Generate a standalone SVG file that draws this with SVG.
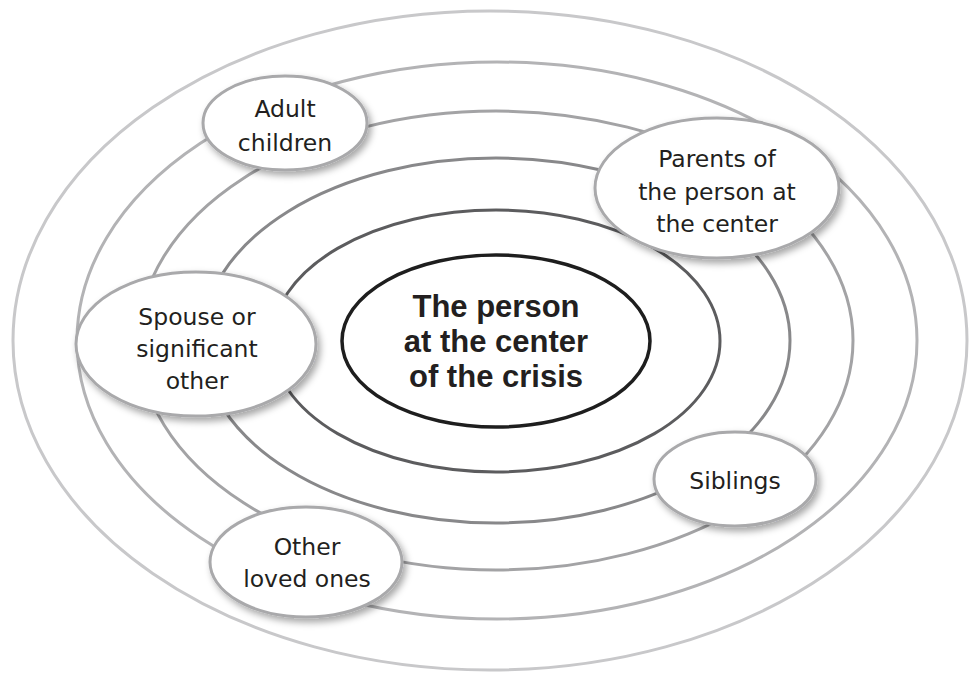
<svg xmlns="http://www.w3.org/2000/svg" width="971" height="673" viewBox="0 0 971 673">
  <defs>
    <filter id="shadow" x="-20%" y="-20%" width="150%" height="150%">
      <feDropShadow dx="3" dy="4" stdDeviation="3.5" flood-color="#000" flood-opacity="0.35"/>
    </filter>
    <style>
      .ring { fill: none; stroke-width: 3; }
      .node ellipse { fill: #fff; stroke: #a9a9ab; stroke-width: 3; filter: url(#shadow); }
      .label { font-family: "DejaVu Sans", "Liberation Sans", sans-serif; font-size: 23.5px; fill: #231f20; text-anchor: middle; }
      .center-label { font-family: "Liberation Sans", Arial, sans-serif; font-weight: bold; font-size: 31px; fill: #231f20; text-anchor: middle; }
    </style>
  </defs>
  <rect width="971" height="673" fill="#fff"/>

  <g id="rings">
    <ellipse class="ring" cx="490" cy="340.5" rx="477" ry="329.5" stroke="#c8c8ca"/>
    <ellipse class="ring" cx="497" cy="340.5" rx="420" ry="278.5" stroke="#b3b3b5"/>
    <ellipse class="ring" cx="496" cy="340.5" rx="357" ry="229.5" stroke="#a3a3a5"/>
    <ellipse class="ring" cx="496" cy="340.5" rx="294" ry="182.5" stroke="#88888a"/>
    <ellipse class="ring" cx="496" cy="341" rx="224" ry="131" stroke="#5c5c5e"/>
  </g>

  <g id="center">
    <ellipse cx="496" cy="341" rx="154" ry="86" fill="#fff" stroke="#1e1e1e" stroke-width="3.5"/>
    <text class="center-label" x="496" y="317">The person</text>
    <text class="center-label" x="496" y="352">at the center</text>
    <text class="center-label" x="496" y="387">of the crisis</text>
  </g>

  <g id="adult-children" class="node">
    <ellipse cx="285" cy="123" rx="82" ry="47"/>
    <text class="label" x="285" y="117">Adult</text>
    <text class="label" x="285" y="151">children</text>
  </g>

  <g id="parents" class="node">
    <ellipse cx="717" cy="188" rx="122" ry="70"/>
    <text class="label" x="717" y="167">Parents of</text>
    <text class="label" x="717" y="200">the person at</text>
    <text class="label" x="717" y="232">the center</text>
  </g>

  <g id="spouse" class="node">
    <ellipse cx="196" cy="344" rx="120" ry="72"/>
    <text class="label" x="197" y="325">Spouse or</text>
    <text class="label" x="197" y="357">significant</text>
    <text class="label" x="197" y="389">other</text>
  </g>

  <g id="siblings" class="node">
    <ellipse cx="735" cy="479" rx="81" ry="47"/>
    <text class="label" x="735" y="489">Siblings</text>
  </g>

  <g id="other-loved-ones" class="node">
    <ellipse cx="306" cy="562" rx="96" ry="55"/>
    <text class="label" x="307" y="555">Other</text>
    <text class="label" x="307" y="587">loved ones</text>
  </g>
</svg>
